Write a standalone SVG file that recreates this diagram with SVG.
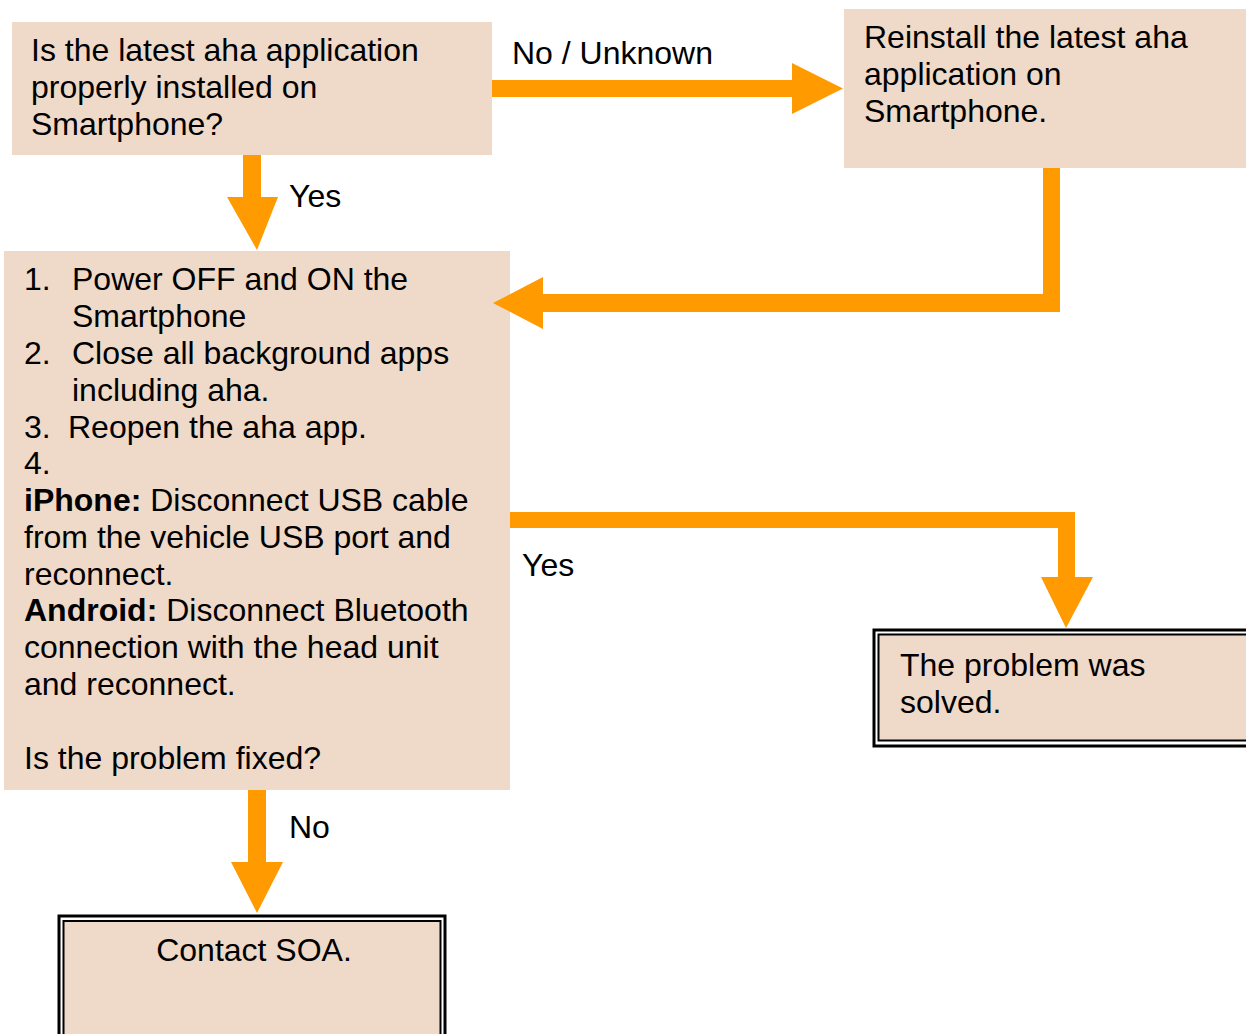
<svg xmlns="http://www.w3.org/2000/svg" width="1246" height="1034" viewBox="0 0 1246 1034">
<style>
.box{fill:#EFD9C8;stroke:none}
.dbl-o{fill:#ffffff;stroke:#000;stroke-width:3}
.dbl-i{fill:#EFD9C8;stroke:#000;stroke-width:2}
.arr{fill:#FF9A00;stroke:none}
text{font-family:"Liberation Sans",Arial,sans-serif;font-size:32px;fill:#000}
.b{font-weight:bold}
</style>
<rect width="1246" height="1034" fill="#ffffff"/>
<g id="n1">
<rect class="box" x="12" y="22" width="480" height="133"/>
<text x="31" y="61">Is the latest aha application</text>
<text x="31" y="98">properly installed on</text>
<text x="31" y="135">Smartphone?</text>
</g>
<g id="n2">
<rect class="box" x="844" y="9" width="402" height="159"/>
<text x="864" y="48">Reinstall the latest aha</text>
<text x="864" y="85">application on</text>
<text x="864" y="122">Smartphone.</text>
</g>
<g id="n3">
<rect class="box" x="4" y="251" width="506" height="539"/>
<text x="24" y="290">1.</text><text x="72" y="290">Power OFF and ON the</text>
<text x="72" y="327">Smartphone</text>
<text x="24" y="364">2.</text><text x="72" y="364">Close all background apps</text>
<text x="72" y="401">including aha.</text>
<text x="24" y="438">3.</text><text x="68" y="438">Reopen the aha app.</text>
<text x="24" y="474">4.</text>
<text x="24" y="511"><tspan class="b">iPhone:</tspan> Disconnect USB cable</text>
<text x="24" y="548">from the vehicle USB port and</text>
<text x="24" y="585">reconnect.</text>
<text x="24" y="621"><tspan class="b">Android:</tspan> Disconnect Bluetooth</text>
<text x="24" y="658">connection with the head unit</text>
<text x="24" y="695">and reconnect.</text>
<text x="24" y="769">Is the problem fixed?</text>
</g>
<g id="n4">
<rect class="dbl-o" x="874" y="630" width="390" height="116"/>
<rect class="dbl-i" x="878.5" y="634.5" width="390" height="106"/>
<text x="900" y="676">The problem was</text>
<text x="900" y="713">solved.</text>
</g>
<g id="n5">
<rect class="dbl-o" x="59" y="916" width="386" height="130"/>
<rect class="dbl-i" x="63.5" y="921" width="377" height="125"/>
<text x="254" y="961" text-anchor="middle">Contact SOA.</text>
</g>
<g id="connectors">
<polygon class="arr" points="492,80 792,80 792,63 843,88.5 792,114 792,97 492,97"/>
<polygon class="arr" points="243,155 261,155 261,197 278,197 257,250 227,197 243,197"/>
<polygon class="arr" points="1043,168 1060,168 1060,312 543,312 543,329 493,303 543,277 543,294 1043,294"/>
<polygon class="arr" points="510,512 1075,512 1075,577 1093,577 1066,628 1041,577 1058,577 1058,528 510,528"/>
<polygon class="arr" points="248,790 266,790 266,862 283,862 257,913 231,862 248,862"/>
<text x="512" y="64">No / Unknown</text>
<text x="289" y="207">Yes</text>
<text x="522" y="576">Yes</text>
<text x="289" y="838">No</text>
</g>
</svg>
